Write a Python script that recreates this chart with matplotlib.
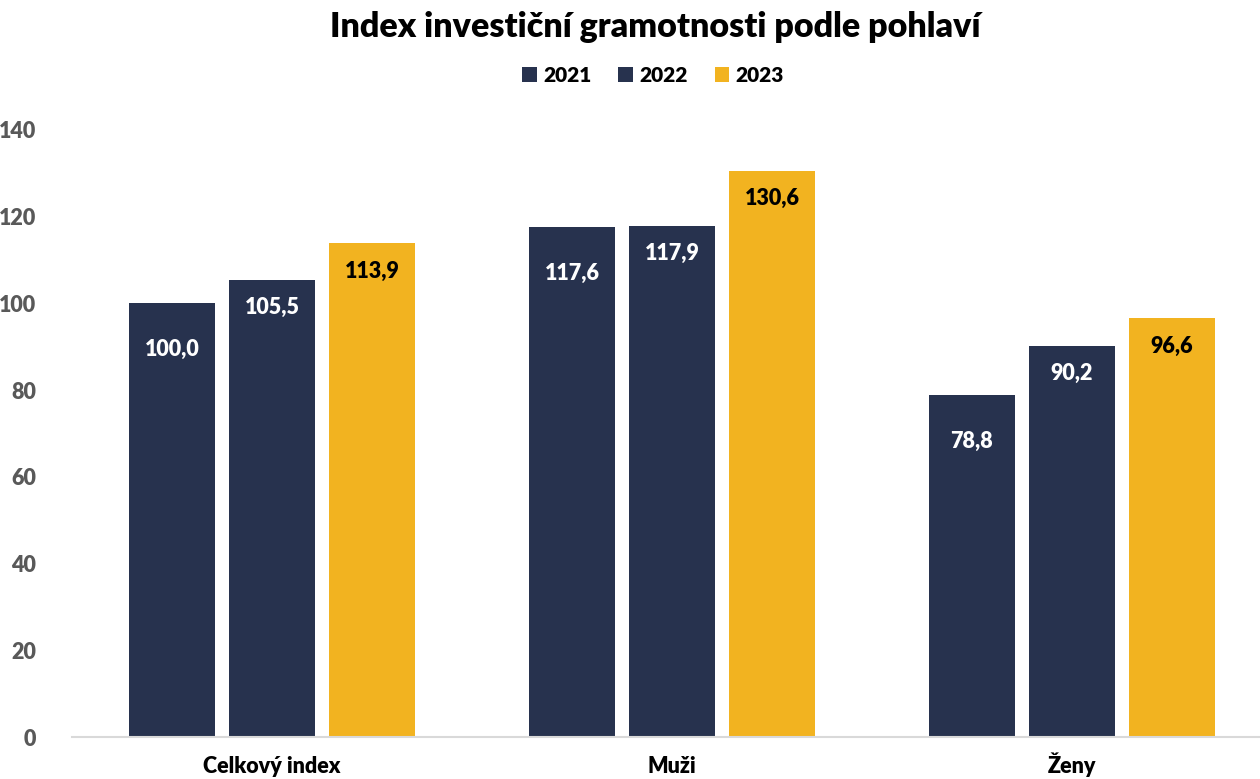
import matplotlib
matplotlib.use("Agg")
import matplotlib.pyplot as plt
import matplotlib.transforms as mtransforms
import numpy as np

categories = ["Celkový index", "Muži", "Ženy"]
years = ["2021", "2022", "2023"]
values_2021 = [100.0, 117.6, 78.8]
values_2022 = [105.5, 117.9, 90.2]
values_2023 = [113.9, 130.6, 96.6]
yticks = [0, 20, 40, 60, 80, 100, 120, 140]

plt.rcParams['font.family'] = ['Lato', 'DejaVu Sans']

series = [values_2021, values_2022, values_2023]
colors = ["#27324E", "#27324E", "#F2B320"]
label_colors = ["white", "white", "black"]
label_offsets = [-33, -20, -20]  # points below bar top

fig = plt.figure(figsize=(12.6, 7.79), dpi=100)
W, H = 1260, 779
ax = fig.add_axes([72 / W, (H - 737) / H, (1260 - 72) / W, (737 - 130) / H])

x = np.arange(len(categories))
width = 0.215
offsets = [-0.25, 0.0, 0.25]
handles = []
for vals, col, lc, off, lo, yr in zip(series, colors, label_colors, offsets, label_offsets, years):
    bars = ax.bar(x + off, vals, width=width, color=col, label=yr, zorder=2)
    handles.append(bars)
    for b, v in zip(bars, vals):
        ax.annotate(f"{v:.1f}".replace(".", ","),
                    xy=(b.get_x() + b.get_width() / 2, v),
                    xytext=(0, lo), textcoords="offset points",
                    ha="center", va="center", color=lc,
                    fontsize=15.5, fontweight="heavy")

ax.set_xlim(-0.5, 2.47)
ax.set_ylim(0, 140)
ax.set_yticks(yticks)
ax.set_yticklabels([str(t) for t in yticks], fontsize=15.5, fontweight="heavy", color="#595959")
ax.set_xticks(x)
ax.set_xticklabels([])
trans = mtransforms.blended_transform_factory(ax.transData, fig.transFigure)
for xi, cat in zip(x, categories):
    ax.text(xi, 1 - 773 / H, cat, transform=trans, ha="center", va="baseline",
            fontsize=15.5, fontweight="heavy", color="black", clip_on=False)
ax.tick_params(axis="both", length=0)
ax.tick_params(axis="y", pad=26)
for s in ["top", "right", "left"]:
    ax.spines[s].set_visible(False)
ax.spines["bottom"].set_color("#D9D9D9")
ax.spines["bottom"].set_linewidth(1.5)

fig.text(655 / W, 1 - 27 / H, "Index investiční gramotnosti podle pohlaví",
         ha="center", va="center", fontsize=24.5, fontweight="heavy", color="black")

leg = fig.legend(handles=handles, labels=years, loc="center",
                 bbox_to_anchor=(653 / W, 1 - 75 / H), ncol=3, frameon=False,
                 prop={"size": 15, "weight": "heavy"},
                 handlelength=0.7, handleheight=0.7, handletextpad=0.3,
                 columnspacing=1.3)

fig.savefig("out.png", dpi=100)
